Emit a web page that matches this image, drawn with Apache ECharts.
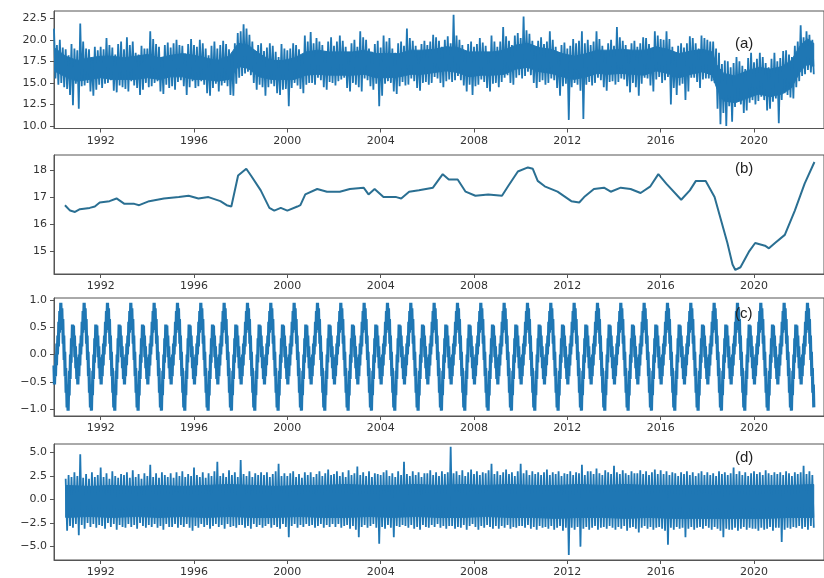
<!DOCTYPE html>
<html><head><meta charset="utf-8">
<script src="https://cdn.jsdelivr.net/npm/echarts@6/dist/echarts.min.js"></script>
<style>html,body{margin:0;padding:0;background:#fff}#c{width:824px;height:578px}</style>
</head><body><div id="c"></div><script>
// ---------- DATA ----------
const xTicks = [1992, 1996, 2000, 2004, 2008, 2012, 2016, 2020];

// (a) observed series: high / low of the band, 8 samples per year, starting 1990.0
const aStart = 1990.0;
const aHigh = [
  21.3,19.4,20.0,19.1,18.9,18.2,19.5,19.0,   // 1990
  18.8,21.9,19.8,19.0,18.9,17.6,19.2,18.8,   // 1991
  19.2,18.9,20.2,19.4,19.1,18.3,19.5,19.8,   // 1992
  18.9,20.3,19.4,19.8,18.5,18.3,19.3,19.0,   // 1993
  19.0,21.0,20.1,19.5,19.2,18.0,19.4,19.7,   // 1994
  19.1,19.6,20.0,19.4,19.3,18.4,19.5,20.1,   // 1995
  19.4,19.2,20.0,19.6,19.0,18.2,19.3,19.8,   // 1996
  19.0,19.4,19.9,19.5,18.9,18.2,19.6,20.8,   // 1997
  21.0,21.8,21.3,20.6,19.8,18.7,19.4,19.6,   // 1998
  18.7,19.1,19.6,19.3,18.6,18.0,19.5,19.0,   // 1999
  18.8,19.0,19.6,19.4,18.9,18.3,20.5,19.8,   // 2000
  20.9,19.6,20.2,19.8,19.4,18.7,19.8,20.3,   // 2001
  19.3,19.8,20.5,19.9,19.2,18.5,19.6,20.0,   // 2002
  19.2,21.0,20.3,20.0,19.0,18.6,19.5,19.9,   // 2003
  19.1,20.5,19.8,20.2,19.0,18.5,19.6,19.8,   // 2004
  19.3,21.3,20.2,19.9,19.3,18.6,19.5,19.9,   // 2005
  19.4,19.8,20.6,20.3,19.9,19.2,20.0,20.4,   // 2006
  19.6,22.9,20.5,20.0,19.4,18.6,19.5,19.8,   // 2007
  19.2,19.5,20.2,19.7,19.3,18.5,20.5,19.8,   // 2008
  19.2,19.8,21.5,20.4,19.9,19.4,20.5,20.8,   // 2009
  20.2,22.7,21.1,20.7,19.9,19.0,19.9,20.3,   // 2010
  19.5,19.8,21.0,20.0,19.2,18.5,19.4,19.7,   // 2011
  19.0,19.3,20.1,19.6,19.9,21.0,19.6,20.0,   // 2012
  19.4,19.8,21.0,20.1,19.3,18.7,19.6,20.0,   // 2013
  19.3,21.5,20.3,19.9,19.4,18.6,19.6,19.9,   // 2014
  19.2,19.6,20.3,20.2,19.5,19.0,21.0,20.5,   // 2015
  20.1,20.0,21.0,20.1,19.2,18.4,19.3,19.6,   // 2016
  19.1,19.6,20.4,20.2,19.6,19.0,20.5,20.2,   // 2017
  20.0,19.8,19.8,19.0,18.5,17.2,17.6,17.5,   // 2018
  16.8,17.3,18.0,17.5,17.0,16.6,17.9,18.5,   // 2019
  17.4,17.8,18.5,18.0,17.3,16.8,17.8,18.5,   // 2020
  17.5,17.9,18.7,18.8,18.3,18.0,19.3,19.8,   // 2021
  21.7,20.3,21.0,20.6,20.0                   // 2022
];
const aLow = [
  15.5,14.8,15.0,14.5,14.3,13.6,12.4,14.9,   // 1990
  12.0,14.6,14.7,15.0,14.0,13.5,14.2,14.8,   // 1991
  14.4,14.9,15.0,15.3,14.1,13.9,14.7,14.5,   // 1992
  14.3,14.0,15.2,14.7,14.4,13.6,14.2,15.0,   // 1993
  14.5,14.6,15.0,15.2,14.0,13.7,14.8,14.4,   // 1994
  14.6,14.2,15.1,15.3,14.6,13.6,14.5,15.2,   // 1995
  14.4,14.6,15.2,14.8,13.8,13.5,14.4,14.9,   // 1996
  14.0,14.7,15.0,14.6,13.6,13.5,14.9,15.6,   // 1997
  15.8,16.1,16.3,15.9,15.0,14.2,14.8,14.5,   // 1998
  13.5,14.5,14.9,14.6,13.8,13.6,14.2,14.3,   // 1999
  12.3,14.4,15.0,14.7,14.3,13.8,14.8,15.0,   // 2000
  15.0,14.8,15.6,15.3,14.5,14.2,15.1,15.0,   // 2001
  14.7,15.2,15.4,15.6,14.4,14.0,15.0,14.8,   // 2002
  14.5,14.0,15.5,15.3,14.6,14.2,14.9,12.3,   // 2003
  13.5,14.9,15.2,15.0,14.0,13.7,14.6,15.1,   // 2004
  14.7,14.8,15.5,15.2,14.4,14.1,15.0,15.1,   // 2005
  14.8,15.0,15.7,15.5,15.0,14.5,15.2,15.4,   // 2006
  15.1,15.3,15.8,15.3,14.7,14.0,14.8,13.6,   // 2007
  14.6,14.8,15.4,15.1,14.4,14.0,14.9,15.0,   // 2008
  14.5,15.1,15.6,15.9,15.0,14.8,15.6,15.9,   // 2009
  15.5,15.8,16.3,15.9,15.0,14.4,15.1,15.3,   // 2010
  14.8,15.0,15.5,15.3,14.4,13.5,14.6,14.9,   // 2011
  10.7,14.5,15.0,14.8,14.1,10.8,14.8,15.1,   // 2012
  14.7,15.0,15.6,15.3,14.5,14.1,15.1,15.2,   // 2013
  14.8,15.1,15.5,15.4,14.6,13.9,15.0,14.5,   // 2014
  13.5,14.9,15.6,15.5,14.7,14.0,15.4,15.7,   // 2015
  15.0,15.3,15.7,12.5,14.4,13.6,14.7,14.9,   // 2016
  13.0,14.0,15.6,15.6,15.1,14.4,15.4,15.5,   // 2017
  15.5,15.2,15.0,12.0,10.2,11.5,10.0,12.3,   // 2018
  10.5,12.2,12.8,12.5,11.5,11.8,12.7,13.0,   // 2019
  12.5,12.9,13.4,13.0,11.8,12.0,12.8,13.2,   // 2020
  10.3,13.0,13.8,13.6,13.3,13.2,14.5,15.2,   // 2021
  15.8,16.0,16.5,16.2,16.0                   // 2022
];
// (a) solid middle of the band
const aCoreYears = [1990.0,1990.5,1991.0,1991.5,1992.0,1992.5,1993.0,1993.5,1994.0,1994.5,1995.0,1995.5,1996.0,1996.5,1997.0,1997.5,1997.9,1998.3,1998.8,1999.3,1999.8,2000.3,2000.8,2001.3,2001.8,2002.3,2002.8,2003.3,2003.8,2004.3,2004.8,2005.3,2005.8,2006.3,2006.8,2007.3,2007.8,2008.3,2008.8,2009.3,2009.8,2010.3,2010.8,2011.3,2011.8,2012.3,2012.8,2013.3,2013.8,2014.3,2014.8,2015.3,2015.8,2016.3,2016.8,2017.3,2017.8,2018.2,2018.4,2018.7,2019.2,2019.7,2020.2,2020.7,2021.2,2021.6,2022.0,2022.3,2022.56];
const aCoreLo = [16.4,15.7,15.2,15.4,15.6,15.4,15.4,15.4,15.6,15.4,15.7,15.7,15.4,15.4,15.2,15.4,16.9,16.7,15.7,15.4,15.4,15.4,15.9,16.0,15.9,15.9,15.9,16.0,15.6,15.6,15.7,16.0,16.0,16.2,16.4,16.2,15.7,15.9,15.9,16.0,16.6,16.8,16.3,16.1,15.7,15.4,15.7,16.1,16.0,16.1,16.0,15.9,16.4,16.1,15.6,16.0,16.3,15.9,14.4,12.9,12.7,13.2,13.7,13.4,13.7,14.4,16.4,17.2,16.9];
const aCoreHi = [19.1,18.1,17.6,17.9,18.1,18.1,17.9,18.1,18.3,17.9,18.2,18.4,18.2,17.9,17.6,18.1,19.6,19.4,18.4,17.6,17.6,17.9,18.6,18.8,18.6,18.6,18.6,18.8,18.4,18.4,18.4,18.8,18.8,18.9,19.2,19.1,18.6,18.6,18.6,18.8,19.4,19.6,19.1,18.9,18.4,18.1,18.4,18.8,18.8,18.9,18.8,18.8,19.2,18.9,18.4,18.7,18.9,18.6,17.1,16.1,15.8,16.4,16.8,16.6,16.9,17.6,19.4,20.1,19.6];

// (b) trend
const trendYears = [1990.47,1990.69,1990.90,1991.11,1991.53,1991.75,1991.96,1992.38,1992.68,1993.02,1993.44,1993.65,1994.08,1994.71,1995.35,1995.77,1996.19,1996.62,1997.13,1997.40,1997.60,1997.89,1998.24,1998.44,1998.86,1999.23,1999.44,1999.72,2000.00,2000.43,2000.56,2000.77,2001.28,2001.70,2002.25,2002.68,2003.27,2003.48,2003.74,2004.12,2004.67,2004.88,2005.22,2005.64,2006.24,2006.66,2006.92,2007.30,2007.64,2008.06,2008.61,2009.20,2009.46,2009.88,2010.31,2010.52,2010.73,2011.03,2011.58,2012.17,2012.51,2012.72,2013.14,2013.57,2013.86,2014.29,2014.71,2015.14,2015.56,2015.90,2016.24,2016.88,2017.25,2017.51,2017.93,2018.31,2018.57,2018.86,2019.08,2019.20,2019.42,2019.80,2020.05,2020.47,2020.64,2020.90,2021.32,2021.75,2022.17,2022.59];
const trendValues = [16.7,16.5,16.45,16.55,16.6,16.65,16.8,16.85,16.95,16.75,16.75,16.7,16.85,16.95,17.0,17.05,16.95,17.0,16.85,16.7,16.65,17.8,18.05,17.8,17.25,16.6,16.5,16.6,16.5,16.65,16.7,17.1,17.3,17.2,17.2,17.3,17.35,17.1,17.3,17.0,17.0,16.95,17.2,17.25,17.35,17.85,17.65,17.65,17.2,17.05,17.1,17.05,17.4,17.95,18.1,18.05,17.6,17.4,17.2,16.85,16.8,17.0,17.3,17.35,17.2,17.35,17.3,17.15,17.4,17.85,17.5,16.9,17.25,17.6,17.6,17.0,16.2,15.3,14.5,14.3,14.4,15.0,15.3,15.2,15.1,15.3,15.6,16.5,17.5,18.3];

// (c) seasonal: one annual cycle (48 samples per year), repeated each year
const seasonalStart = 1990.0;
const seasonalEnd = 2022.58;
const seasonalCycle = [
  -0.20,-0.55,-0.20,-0.40, 0.00,-0.20, 0.20, 0.00, 0.35, 0.15, 0.60, 0.40,
   0.80, 0.60, 0.95, 0.63, 0.85, 0.45, 0.65, 0.20, 0.35,-0.10, 0.05,-0.40,
  -0.25,-0.70,-0.55,-0.97,-0.73,-1.03,-0.60,-0.75,-0.30,-0.45, 0.00,-0.15,
   0.30, 0.15, 0.55, 0.27, 0.53, 0.15, 0.35,-0.05, 0.15,-0.25,-0.05,-0.45
];

// (d) residual: high / low of the band, 8 samples per year, starting 1990.5
const dStart = 1990.5;
const dHigh = [
  2.2,2.6,2.4,2.9,                 // 1990 (H2)
  2.5,4.8,2.3,2.7,2.2,2.9,2.4,2.6, // 1991
  3.4,2.4,2.8,2.2,3.0,2.5,2.3,2.7, // 1992
  2.6,2.9,2.3,3.1,2.4,2.7,2.2,2.8, // 1993
  2.5,3.7,2.4,2.8,2.3,2.9,2.6,2.4, // 1994
  2.8,2.3,2.9,2.5,3.0,2.4,2.7,2.5, // 1995
  3.4,2.6,2.4,2.9,2.3,2.8,2.5,3.0, // 1996
  4.0,2.5,2.8,2.4,3.1,2.6,2.9,2.4, // 1997
  4.2,2.7,2.5,3.0,2.4,2.8,2.6,2.9, // 1998
  2.6,2.9,2.4,2.7,3.0,3.8,2.5,2.8, // 1999
  2.5,2.8,3.0,2.4,2.7,2.3,2.9,2.6, // 2000
  2.9,2.4,2.7,3.0,2.5,2.8,3.2,2.6, // 2001
  2.7,3.0,2.5,2.9,2.4,3.1,2.6,2.8, // 2002
  3.5,2.6,2.9,2.5,3.0,2.4,2.8,2.7, // 2003
  2.6,2.9,3.1,2.5,2.8,2.4,3.0,2.6, // 2004
  4.0,2.7,2.5,3.0,2.6,2.9,2.4,2.8, // 2005
  2.8,3.1,2.6,2.9,2.5,3.0,2.7,2.9, // 2006
  5.6,2.8,3.0,2.6,3.1,2.5,2.9,3.2, // 2007
  2.7,3.0,2.6,2.9,2.8,3.1,3.8,2.7, // 2008
  3.0,2.6,2.9,3.2,2.7,2.9,2.5,3.0, // 2009
  3.8,2.8,3.1,2.6,3.0,2.7,2.9,2.6, // 2010
  2.9,3.2,2.6,2.9,2.7,3.0,2.5,2.8, // 2011
  2.7,3.0,2.6,2.9,2.8,3.7,2.6,3.0, // 2012
  3.0,2.7,3.3,2.8,2.6,3.1,2.9,2.7, // 2013
  3.6,2.9,2.7,3.1,2.8,2.6,3.0,2.8, // 2014
  2.8,3.1,2.7,3.0,2.6,2.9,3.2,2.7, // 2015
  3.1,2.7,3.0,2.6,2.9,2.8,2.5,2.9, // 2016
  2.7,3.0,2.6,2.9,2.5,2.8,3.0,2.6, // 2017
  2.9,2.6,2.8,2.5,3.0,2.7,2.9,2.6, // 2018
  2.8,3.4,2.7,3.0,2.6,2.9,2.5,2.8, // 2019
  3.0,2.7,2.9,2.6,3.1,2.8,2.6,2.9, // 2020
  2.7,2.9,2.6,3.0,2.8,2.5,2.9,2.7, // 2021
  2.9,3.6,2.7,3.0,2.6              // 2022
];
const dLow = [
  -3.3,-2.8,-3.0,-2.6,                     // 1990 (H2)
  -3.8,-2.7,-3.1,-2.5,-2.9,-2.6,-3.0,-2.7, // 1991
  -2.8,-3.1,-2.5,-2.9,-2.6,-3.2,-2.7,-2.9, // 1992
  -3.0,-2.6,-2.9,-2.7,-3.1,-2.5,-2.8,-3.0, // 1993
  -2.7,-2.9,-2.6,-3.0,-2.8,-3.2,-2.6,-2.9, // 1994
  -2.9,-2.6,-3.0,-2.7,-2.9,-2.6,-3.0,-3.3, // 1995
  -2.8,-3.0,-2.6,-2.9,-2.7,-3.1,-2.8,-2.6, // 1996
  -2.9,-2.7,-3.1,-2.6,-2.9,-2.8,-3.0,-2.7, // 1997
  -2.7,-3.0,-2.8,-3.1,-2.6,-2.9,-2.7,-3.0, // 1998
  -2.8,-2.6,-3.0,-2.7,-2.9,-3.1,-2.6,-2.9, // 1999
  -4.0,-2.8,-2.6,-3.0,-2.7,-2.9,-2.6,-2.8, // 2000
  -2.7,-3.0,-2.8,-2.6,-3.0,-2.7,-2.9,-2.6, // 2001
  -2.9,-2.6,-3.0,-2.8,-2.7,-3.1,-2.8,-3.2, // 2002
  -4.0,-2.9,-2.7,-3.0,-2.8,-2.6,-3.0,-4.7, // 2003
  -2.9,-3.1,-2.7,-3.0,-4.0,-2.8,-2.9,-2.7, // 2004
  -2.8,-3.0,-2.7,-3.1,-2.9,-3.2,-2.7,-2.9, // 2005
  -3.0,-2.7,-2.9,-2.6,-3.0,-2.8,-3.1,-2.8, // 2006
  -2.8,-3.1,-2.9,-3.0,-2.7,-3.2,-2.8,-2.6, // 2007
  -2.9,-3.2,-2.8,-3.0,-2.7,-2.9,-3.1,-2.8, // 2008
  -3.1,-2.8,-3.0,-2.7,-3.1,-2.9,-3.0,-2.8, // 2009
  -2.8,-3.0,-2.7,-3.1,-2.9,-3.2,-2.8,-3.0, // 2010
  -2.9,-3.1,-2.8,-3.2,-3.0,-2.8,-3.3,-3.0, // 2011
  -5.9,-3.0,-3.2,-2.9,-5.0,-3.1,-2.9,-3.2, // 2012
  -3.0,-2.8,-3.2,-3.0,-2.9,-3.1,-2.8,-3.0, // 2013
  -3.2,-2.9,-3.1,-2.8,-3.3,-3.0,-2.9,-3.1, // 2014
  -3.5,-3.0,-2.8,-3.1,-2.9,-3.2,-3.0,-2.9, // 2015
  -3.1,-3.3,-4.8,-3.0,-3.2,-2.9,-3.1,-3.0, // 2016
  -4.0,-3.1,-2.9,-3.2,-3.0,-2.9,-3.1,-2.8, // 2017
  -3.0,-3.2,-2.9,-3.1,-3.3,-4.0,-3.1,-3.2, // 2018
  -3.2,-3.0,-3.3,-3.1,-2.9,-3.2,-3.0,-3.1, // 2019
  -3.1,-3.3,-3.0,-3.2,-3.1,-2.9,-3.3,-3.0, // 2020
  -3.0,-4.5,-3.2,-3.0,-3.1,-2.9,-3.0,-2.8, // 2021
  -3.1,-2.9,-3.2,-2.8,-3.0                 // 2022
];
// (d) solid middle of the band
const dCoreYears = [1990.5,1991.5,1992.5,1993.5,1994.5,1995.5,1996.5,1997.5,1998.5,1999.5,2000.5,2001.5,2002.5,2003.5,2004.5,2005.5,2006.5,2007.5,2008.5,2009.5,2010.5,2011.5,2012.5,2013.5,2014.5,2015.5,2016.5,2017.5,2018.5,2019.5,2020.5,2021.5,2022.56];
const dCoreHi = [1.5,1.4,1.5,1.4,1.5,1.4,1.5,1.6,1.5,1.4,1.5,1.5,1.6,1.5,1.5,1.6,1.5,1.6,1.5,1.6,1.5,1.5,1.6,1.5,1.6,1.5,1.5,1.5,1.5,1.5,1.5,1.5,1.6];
const dCoreLo = [-1.9,-1.8,-1.9,-1.8,-1.9,-1.8,-1.9,-1.8,-1.9,-1.9,-1.8,-1.9,-1.9,-1.8,-1.9,-1.8,-1.9,-1.9,-1.8,-1.9,-1.9,-2.0,-1.9,-1.9,-2.0,-1.9,-2.0,-2.0,-2.0,-2.0,-2.0,-1.9,-1.9];

const aTicks = [10.0, 12.5, 15.0, 17.5, 20.0, 22.5];
const bTicks = [15, 16, 17, 18];
const cTicks = [-1.0, -0.5, 0.0, 0.5, 1.0];
const dTicks = [-5.0, -2.5, 0.0, 2.5, 5.0];
const panelLabels = ['(a)', '(b)', '(c)', '(d)'];

// ---------- build series data ----------
function envelope(start, step, hi, lo) {
  const out = [];
  for (let i = 0; i < hi.length; i++) {
    out.push([start + i * step, hi[i]]);
    out.push([start + i * step + step / 2, lo[i]]);
  }
  return out;
}
const seriesA = envelope(aStart, 0.125, aHigh, aLow);
const seriesD = envelope(dStart, 0.125, dHigh, dLow);
const seriesB = trendYears.map((y, i) => [y, trendValues[i]]);
const seriesC = [];
for (let k = 0; ; k++) {
  const t = seasonalStart + k / seasonalCycle.length;
  if (t > seasonalEnd) break;
  seriesC.push([t, seasonalCycle[k % seasonalCycle.length]]);
}

// ---------- chart ----------
const BLUE = '#1f77b4';
const FONT = 'DejaVu Sans';
const AX = '#555';
const grids = [
  { top: 11, height: 117.5 },
  { top: 155, height: 119 },
  { top: 298, height: 118 },
  { top: 444, height: 119 }
];
const yDefs = [
  { min: 9.7, max: 23.35, ticks: aTicks, fmt: v => v.toFixed(1) },
  { min: 14.15, max: 18.56, ticks: bTicks, fmt: v => String(Math.round(v)) },
  { min: -1.128, max: 1.037, ticks: cTicks, fmt: v => (v < 0 ? '\u2212' : '') + Math.abs(v).toFixed(1) },
  { min: -6.42, max: 5.9, ticks: dTicks, fmt: v => (v < 0 ? '\u2212' : '') + Math.abs(v).toFixed(1) }
];
const labelTops = [36, 161, 306, 450];

// filled middle of a band: polygon through the library's coordinate system
function coreSeries(idx, years, lo, hi) {
  return {
    type: 'custom', xAxisIndex: idx, yAxisIndex: idx, data: [[years[0], lo[0]]], silent: true, clip: true,
    renderItem: function (params, api) {
      const pts = [];
      for (let i = 0; i < years.length; i++) pts.push(api.coord([years[i], hi[i]]));
      for (let i = years.length - 1; i >= 0; i--) pts.push(api.coord([years[i], lo[i]]));
      return { type: 'polygon', shape: { points: pts }, style: { fill: BLUE, stroke: BLUE, lineWidth: 1 } };
    }
  };
}

const option = {
  animation: false,
  backgroundColor: '#fff',
  title: panelLabels.map((t, i) => ({
    text: t, left: 735, top: labelTops[i], padding: 0,
    textStyle: { fontSize: 15, fontWeight: 'normal', color: '#222', fontFamily: 'Liberation Sans' }
  })),
  grid: grids.map(g => ({
    left: 54, top: g.top, width: 780, height: g.height,
    show: true, borderColor: AX, borderWidth: 1, backgroundColor: '#fff'
  })),
  xAxis: grids.map((g, i) => ({
    type: 'value', gridIndex: i, min: 1990, max: 2023,
    axisLine: { show: true, onZero: false, lineStyle: { color: AX, width: 1 } },
    axisTick: { show: true, length: 4, customValues: xTicks, lineStyle: { color: AX } },
    axisLabel: { customValues: xTicks, fontSize: 11, color: '#333', margin: 7, fontFamily: FONT,
      formatter: v => String(v) },
    splitLine: { show: false }
  })),
  yAxis: yDefs.map((d, i) => ({
    type: 'value', gridIndex: i, min: d.min, max: d.max,
    axisLine: { show: true, onZero: false, lineStyle: { color: AX, width: 1 } },
    axisTick: { show: true, length: 4, customValues: d.ticks, lineStyle: { color: AX } },
    axisLabel: { customValues: d.ticks, fontSize: 11, color: '#333', margin: 7, fontFamily: FONT,
      formatter: d.fmt },
    splitLine: { show: false }
  })),
  series: [
    coreSeries(0, aCoreYears, aCoreLo, aCoreHi),
    { type: 'line', xAxisIndex: 0, yAxisIndex: 0, data: seriesA, showSymbol: false, symbol: 'none',
      lineStyle: { color: BLUE, width: 1.8 }, clip: true },
    { type: 'line', xAxisIndex: 1, yAxisIndex: 1, data: seriesB, showSymbol: false, symbol: 'none',
      lineStyle: { color: '#2a6f92', width: 2 }, clip: true },
    { type: 'line', xAxisIndex: 2, yAxisIndex: 2, data: seriesC, showSymbol: false, symbol: 'none',
      lineStyle: { color: BLUE, width: 3.2 }, clip: true },
    coreSeries(3, dCoreYears, dCoreLo, dCoreHi),
    { type: 'line', xAxisIndex: 3, yAxisIndex: 3, data: seriesD, showSymbol: false, symbol: 'none',
      lineStyle: { color: BLUE, width: 1.8 }, clip: true }
  ]
};
const chart = echarts.init(document.getElementById('c'), null, { renderer: 'canvas' });
chart.setOption(option);
</script></body></html>
